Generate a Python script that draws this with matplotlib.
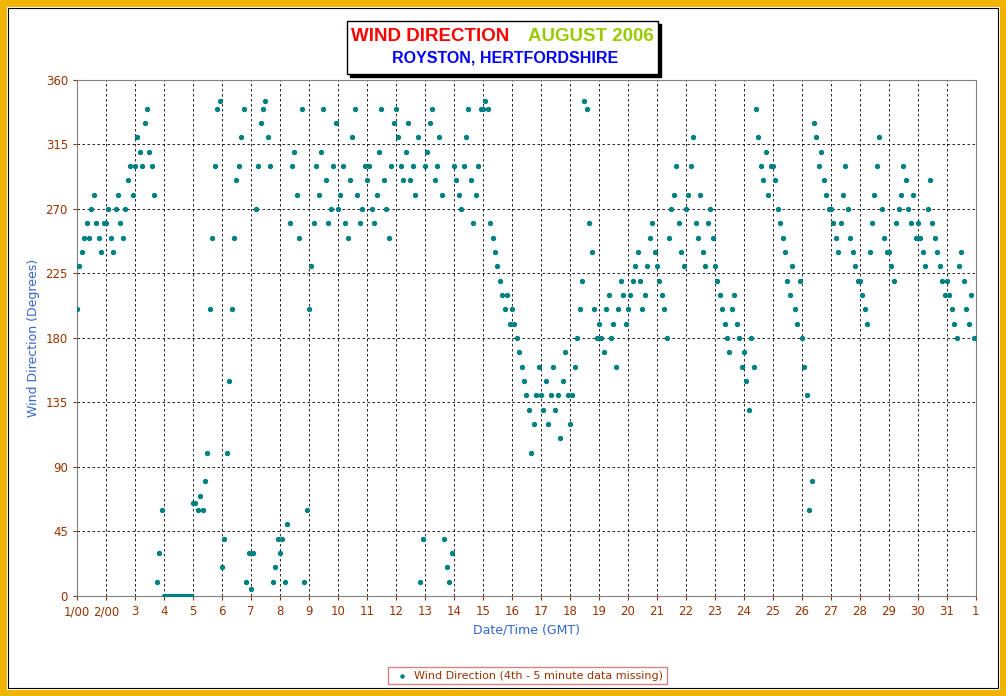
"""
Wind direction scatter, Royston, August 2006.
"""

import matplotlib.pyplot as plt
import numpy as np
from matplotlib.patches import Rectangle

# two-hourly wind direction readings (degrees), one row per day of August
days = list(range(1, 32))
wind_dir = [
    [200, 230, 240, 250, 260, 250, 270, 280, 260, 250, 240, 260],
    [260, 270, 250, 240, 270, 280, 260, 250, 270, 290, 300, 280],
    [300, 320, 310, 300, 330, 340, 310, 300, 280, 10, 30, 60],
    [0, 0, 0, 0, 0, 0, 0, 0, 0, 0, 0, 0],
    [65, 65, 60, 70, 60, 80, 100, 200, 250, 300, 340, 345],
    [20, 40, 100, 150, 200, 250, 290, 300, 320, 340, 10, 30],
    [5, 30, 270, 300, 330, 340, 345, 320, 300, 10, 20, 40],
    [30, 40, 10, 50, 260, 300, 310, 280, 250, 340, 10, 60],
    [200, 230, 260, 300, 280, 310, 340, 290, 260, 270, 300, 330],
    [270, 280, 300, 260, 250, 290, 320, 340, 280, 260, 270, 300],
    [290, 300, 270, 260, 280, 310, 340, 290, 270, 250, 300, 330],
    [340, 320, 300, 290, 310, 330, 290, 300, 280, 320, 10, 40],
    [300, 310, 330, 340, 290, 300, 320, 280, 40, 20, 10, 30],
    [300, 290, 280, 270, 300, 320, 340, 290, 260, 280, 300, 340],
    [340, 345, 340, 260, 250, 240, 230, 220, 210, 200, 210, 190],
    [200, 190, 180, 170, 160, 150, 140, 130, 100, 120, 140, 160],
    [140, 130, 150, 120, 140, 160, 130, 140, 110, 150, 170, 140],
    [120, 140, 160, 180, 200, 220, 345, 340, 260, 240, 200, 180],
    [190, 180, 170, 200, 210, 180, 190, 160, 200, 220, 210, 190],
    [200, 210, 220, 230, 240, 220, 200, 210, 230, 250, 260, 240],
    [230, 220, 210, 200, 180, 250, 270, 280, 300, 260, 240, 230],
    [270, 280, 300, 320, 260, 250, 280, 240, 230, 260, 270, 250],
    [230, 220, 210, 200, 190, 180, 170, 200, 210, 190, 180, 160],
    [170, 150, 130, 180, 160, 340, 320, 300, 290, 310, 280, 300],
    [300, 290, 270, 260, 250, 240, 220, 210, 230, 200, 190, 220],
    [180, 160, 140, 60, 80, 330, 320, 300, 310, 290, 280, 270],
    [270, 260, 250, 240, 260, 280, 300, 270, 250, 240, 230, 220],
    [220, 210, 200, 190, 240, 260, 280, 300, 320, 270, 250, 240],
    [240, 230, 220, 260, 270, 280, 300, 290, 270, 260, 280, 250],
    [260, 250, 240, 230, 270, 290, 260, 250, 240, 230, 220, 210],
    [220, 210, 200, 190, 180, 230, 240, 220, 200, 190, 210, 180],
]
tick_labels = ["1/00", "2/00"] + [str(d) for d in range(3, 32)] + ["1"]

x = np.concatenate([d + np.arange(12) / 12 for d in days])
y = np.concatenate(wind_dir)

fig = plt.figure(figsize=(10.06, 6.96), dpi=100, facecolor="white")
fig.patches.append(Rectangle((0.003, 0.004), 0.994, 0.992, transform=fig.transFigure,
                             fill=False, edgecolor="#F0B400", linewidth=5))
fig.patches.append(Rectangle((0.008, 0.011), 0.984, 0.978, transform=fig.transFigure,
                             fill=False, edgecolor="black", linewidth=0.8))

ax = fig.add_axes([0.0765, 0.1437, 0.8936, 0.7414])
ax.scatter(x, y, s=8, color="#008080", zorder=3, label="Wind Direction (4th - 5 minute data missing)")
ax.set_xlim(1, 32)
ax.set_ylim(0, 360)
ax.set_xticks(range(1, 33))
ax.set_xticklabels(tick_labels)
ax.set_yticks(range(0, 361, 45))
ax.tick_params(colors="#993300", labelsize=8.5, direction="out", length=3)
ax.grid(True, color="black", linestyle=(0, (3, 3)), linewidth=0.6)
for sp in ax.spines.values():
    sp.set_color("#808080")
ax.set_xlabel("Date/Time (GMT)", color="#3366CC", fontsize=9)
ax.set_ylabel("Wind Direction (Degrees)", color="#3366CC", fontsize=9)

# title box with shadow
fig.patches.append(Rectangle((0.348, 0.889), 0.309, 0.077, transform=fig.transFigure,
                             facecolor="black", edgecolor="black"))
fig.patches.append(Rectangle((0.345, 0.893), 0.309, 0.077, transform=fig.transFigure,
                             facecolor="white", edgecolor="black", linewidth=1))
fig.text(0.428, 0.947, "WIND DIRECTION", color="red", fontsize=13.5, fontweight="bold",
         ha="center", va="center", family="Liberation Sans")
fig.text(0.587, 0.947, "AUGUST 2006", color="#99CC00", fontsize=13.5, fontweight="bold",
         ha="center", va="center", family="Liberation Sans")
fig.text(0.502, 0.916, "ROYSTON, HERTFORDSHIRE", color="#0000FF", fontsize=11.5, fontweight="bold",
         ha="center", va="center", family="Liberation Sans")

leg = fig.legend(loc="center", bbox_to_anchor=(0.524, 0.029), fontsize=8, frameon=True,
                 fancybox=False, handletextpad=0.1, markerscale=0.8, borderpad=0.3)
leg.get_frame().set_edgecolor("#CC6666")
leg.get_texts()[0].set_color("#993300")

fig.savefig("out.png", dpi=100)
